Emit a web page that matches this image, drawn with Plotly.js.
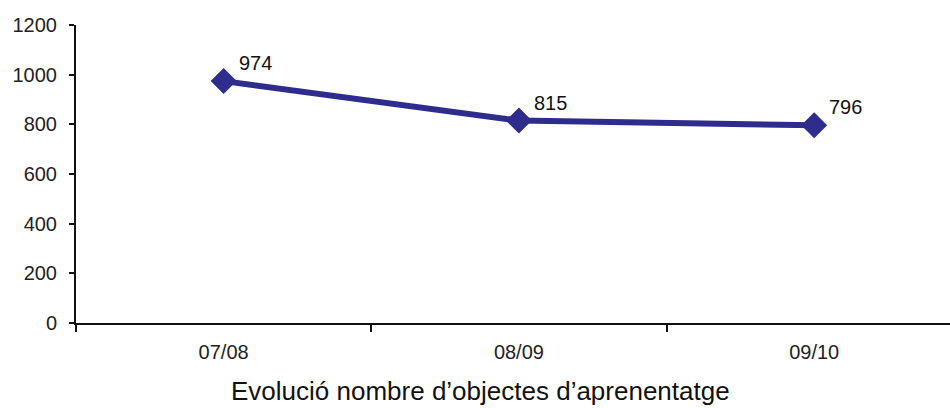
<!DOCTYPE html>
<html>
<head>
<meta charset="utf-8">
<script src="https://cdn.plot.ly/plotly-3.0.1.min.js"></script>
<style>html,body{margin:0;padding:0;background:#fff;}</style>
</head>
<body>
<div id="chart" style="width:950px;height:408px;"></div>
<script>
const categories = ["07/08", "08/09", "09/10"];
const values = [974, 815, 796];
const labels = ["974", "815", "796"];
const chartTitle = "Evolució nombre d’objectes d’aprenentatge";

const trace = {
  x: categories,
  y: values,
  type: "scatter",
  mode: "lines+markers",
  line: {color: "#2E2C8C", width: 6},
  marker: {symbol: "diamond", size: 20, color: "#2E2C8C"},
  cliponaxis: false,
  hoverinfo: "none"
};

const valueNotes = categories.map((c, i) => ({
  x: c, y: values[i], xref: "x", yref: "y",
  text: labels[i], showarrow: false,
  xanchor: "left", yanchor: "bottom",
  xshift: 13, yshift: 5,
  font: {size: 20, color: "#111"}
}));

const layout = {
  width: 950, height: 408,
  margin: {l: 76, r: 0, t: 25, b: 85},
  paper_bgcolor: "#fff", plot_bgcolor: "#fff",
  showlegend: false,
  font: {family: "Liberation Sans, Arial, sans-serif", size: 20, color: "#222"},
  xaxis: {
    type: "category",
    range: [-0.5, 2.46],
    showgrid: false, zeroline: false,
    showline: true, linecolor: "#111", linewidth: 2,
    ticks: "outside", tickson: "boundaries", ticklen: 7, tickwidth: 2, tickcolor: "#111",
    ticklabelstandoff: 10,
    tickfont: {size: 20, color: "#222"}
  },
  yaxis: {
    range: [0, 1200], dtick: 200,
    showgrid: false, zeroline: false,
    showline: true, linecolor: "#111", linewidth: 2,
    ticks: "outside", ticklen: 5, tickwidth: 2, tickcolor: "#111",
    ticklabelstandoff: 8,
    tickfont: {size: 20, color: "#222"}
  },
  annotations: valueNotes.concat([{
    text: chartTitle, xref: "paper", yref: "paper",
    x: (480 - 76) / 874, y: -(391 - 323) / 298, xanchor: "center", yanchor: "middle",
    showarrow: false, font: {size: 26, color: "#111"}
  }])
};

Plotly.newPlot("chart", [trace], layout, {displayModeBar: false, staticPlot: true});
</script>
</body>
</html>
